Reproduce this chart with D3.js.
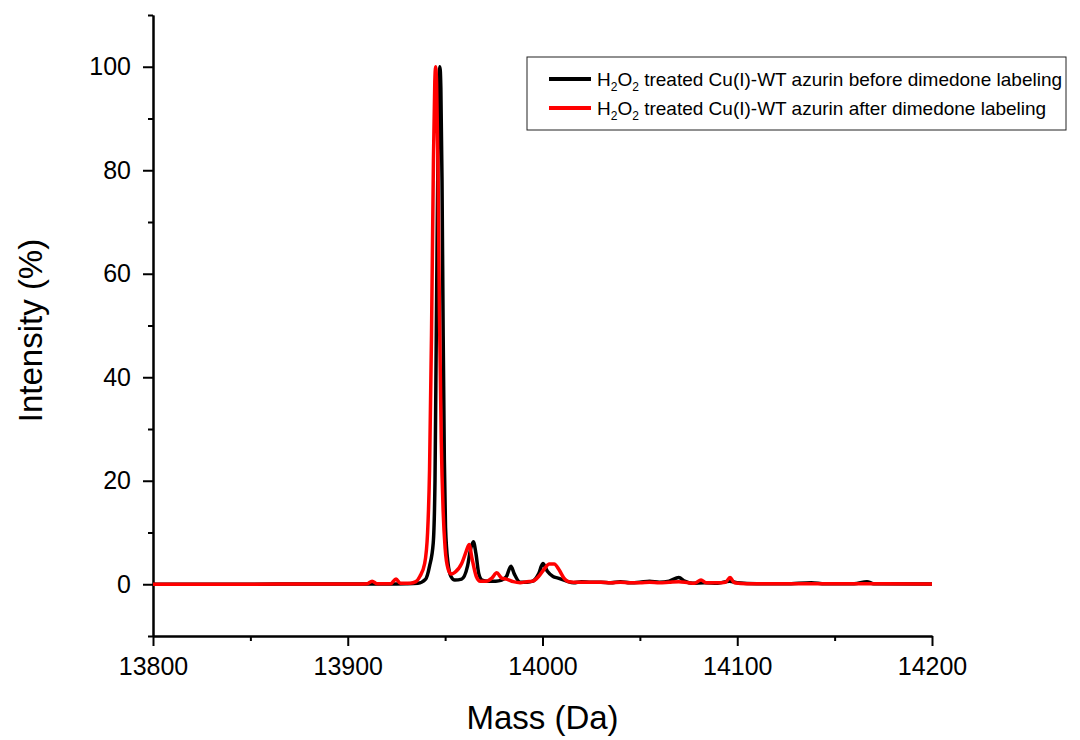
<!DOCTYPE html>
<html>
<head>
<meta charset="utf-8">
<script src="https://cdn.jsdelivr.net/npm/d3@7"></script>
<style>
  body { margin: 0; background: #fff; }
  svg { display: block; }
  text { font-family: Arial, "Liberation Sans", sans-serif; }
</style>
</head>
<body>
<div id="chart"></div>
<script>
// Spectrum: mass (Da) and relative intensity (%)
var beforeMass = [13800, 13850, 13880, 13900, 13920, 13930, 13936, 13940, 13942, 13943.9,
  13944.8, 13945.5, 13946.3, 13946.9, 13947.3, 13947.8, 13948.4, 13949.0, 13949.6, 13950.2,
  13951.5, 13953, 13955, 13958.5, 13961.5, 13963.2, 13964.5, 13965.8, 13967.3, 13969,
  13972, 13976, 13979, 13981.5, 13983.8, 13985.5, 13988.5, 13992, 13995, 13998,
  14000.2, 14002.5, 14005.4, 14008, 14012.4, 14016, 14020, 14025, 14030, 14035,
  14040, 14045, 14050, 14055, 14060, 14065, 14070, 14073, 14077, 14083,
  14090, 14096, 14100, 14110, 14125, 14138, 14145, 14160, 14166.6, 14170, 14200];
var beforeInt = [0, 0, 0.05, 0.05, 0.05, 0.1, 0.2, 1, 3.5, 8,
  20, 50, 82, 97, 100, 96, 78, 48, 24, 11,
  4, 1.5, 0.8, 1, 3.5, 7, 8.2, 6, 2, 0.8,
  0.6, 0.6, 0.8, 1.5, 3.5, 2, 0.4, 0.4, 0.6, 2,
  4, 2.5, 1.5, 1.2, 0.6, 0.3, 0.5, 0.4, 0.4, 0.3,
  0.5, 0.3, 0.4, 0.6, 0.4, 0.6, 1.3, 0.6, 0.2, 0.3,
  0.2, 0.6, 0.3, 0.1, 0.1, 0.3, 0.1, 0.1, 0.5, 0.1, 0.05];

var afterMass = [13800, 13850, 13880, 13905, 13910, 13912.5, 13915, 13922, 13924.8, 13927,
  13932, 13935, 13937, 13939.5, 13941, 13942, 13943, 13944, 13944.7, 13945.1,
  13945.6, 13946.3, 13947.1, 13948, 13949, 13950, 13951.5, 13953, 13955, 13958.5,
  13960.5, 13962.3, 13963.8, 13966, 13968, 13971, 13974, 13976.5, 13979, 13981.5,
  13985, 13988.5, 13992, 13995, 13998, 14001, 14003.5, 14006, 14008.5, 14011,
  14013.5, 14018, 14025, 14030, 14035, 14040, 14045, 14050, 14055, 14060,
  14065, 14070, 14075, 14078, 14081.4, 14084, 14090, 14094, 14096.3, 14098.5,
  14105, 14120, 14140, 14160, 14200];
var afterInt = [0, 0, 0.05, 0.05, 0.1, 0.6, 0.1, 0.1, 1, 0.2,
  0.2, 0.5, 1.5, 4, 10, 22, 48, 82, 97, 100,
  97, 82, 52, 28, 14, 7, 3, 2, 2.3, 4,
  6, 7.7, 5, 1.5, 0.6, 0.6, 1.2, 2.2, 1.2, 1,
  0.5, 0.3, 0.5, 0.6, 1.5, 3, 3.9, 3.9, 2.8, 1.2,
  0.5, 0.4, 0.4, 0.4, 0.3, 0.4, 0.3, 0.3, 0.4, 0.3,
  0.4, 0.5, 0.3, 0.2, 0.8, 0.3, 0.3, 0.4, 1.3, 0.3,
  0.1, 0.1, 0.1, 0.1, 0.05];

var xMajor = [13800, 13900, 14000, 14100, 14200];
var xMinor = [13850, 13950, 14050, 14150];
var yMajor = [0, 20, 40, 60, 80, 100];
var yMinor = [-10, 10, 30, 50, 70, 90, 110];

var seriesNames = ["before dimedone labeling", "after dimedone labeling"];
var seriesColors = ["#000000", "#ff0000"];

var width = 1080, height = 740;
var x0 = 153, x1 = 932, yTop = 15, yBot = 636;

var svg = d3.select("#chart")
            .append("svg")
            .attr("width", width)
            .attr("height", height);

var x = d3.scaleLinear().domain([13800, 14200]).range([x0, x1]);
var y = d3.scaleLinear().domain([-10, 110]).range([yBot, yTop]);

// axes
var xAxis = d3.axisBottom(x).tickValues(xMajor).tickSize(10).tickSizeOuter(0)
              .tickPadding(11).tickFormat(d3.format("d"));
var xAxisMinor = d3.axisBottom(x).tickValues(xMinor).tickSize(5).tickSizeOuter(0).tickFormat("");
var yAxis = d3.axisLeft(y).tickValues(yMajor).tickSize(10).tickSizeOuter(0)
              .tickPadding(12).tickFormat(d3.format("d"));
var yAxisMinor = d3.axisLeft(y).tickValues(yMinor).tickSize(5).tickSizeOuter(0).tickFormat("");

svg.append("g").attr("transform", "translate(0," + yBot + ")").call(xAxis);
svg.append("g").attr("transform", "translate(0," + yBot + ")").call(xAxisMinor);
svg.append("g").attr("transform", "translate(" + x0 + ",0)").call(yAxis);
svg.append("g").attr("transform", "translate(" + x0 + ",0)").call(yAxisMinor);

svg.selectAll(".domain, .tick line")
   .attr("stroke", "#000")
   .attr("stroke-width", 2);
svg.selectAll(".tick text")
   .attr("font-size", "25px")
   .attr("fill", "#000")
   .style("font-family", "Arial, 'Liberation Sans', sans-serif");

// axis titles
svg.append("text")
   .attr("x", (x0 + x1) / 2)
   .attr("y", 729)
   .attr("text-anchor", "middle")
   .attr("font-size", "33px")
   .text("Mass (Da)");

svg.append("text")
   .attr("transform", "translate(42," + ((yTop + yBot) / 2 + 5) + ") rotate(-90)")
   .attr("text-anchor", "middle")
   .attr("font-size", "33px")
   .text("Intensity (%)");

// spectra
var line = d3.line()
             .x(function(d) { return x(d[0]); })
             .y(function(d) { return y(d[1]); })
             .curve(d3.curveMonotoneX);

var before = beforeMass.map(function(m, i) { return [m, beforeInt[i]]; });
var after = afterMass.map(function(m, i) { return [m, afterInt[i]]; });

[before, after].forEach(function(s, i) {
  svg.append("path")
     .datum(s)
     .attr("d", line)
     .attr("fill", "none")
     .attr("stroke", seriesColors[i])
     .attr("stroke-width", 3.5)
     .attr("stroke-linejoin", "round");
});

// legend
var lg = svg.append("g");
lg.append("rect")
  .attr("x", 527).attr("y", 57)
  .attr("width", 539).attr("height", 73)
  .attr("fill", "#fff")
  .attr("stroke", "#222")
  .attr("stroke-width", 1);

seriesNames.forEach(function(name, i) {
  var ly = 79 + i * 29;
  lg.append("line")
    .attr("x1", 549).attr("x2", 591)
    .attr("y1", ly).attr("y2", ly)
    .attr("stroke", seriesColors[i])
    .attr("stroke-width", 4);
  var t = lg.append("text")
    .attr("x", 597)
    .attr("y", ly + 7)
    .attr("font-size", "19px");
  t.append("tspan").text("H");
  t.append("tspan").attr("font-size", "12px").attr("dy", 5).text("2");
  t.append("tspan").attr("dy", -5).text("O");
  t.append("tspan").attr("font-size", "12px").attr("dy", 5).text("2");
  t.append("tspan").attr("dy", -5).text(" treated Cu(I)-WT azurin " + name);
});
</script>
</body>
</html>
